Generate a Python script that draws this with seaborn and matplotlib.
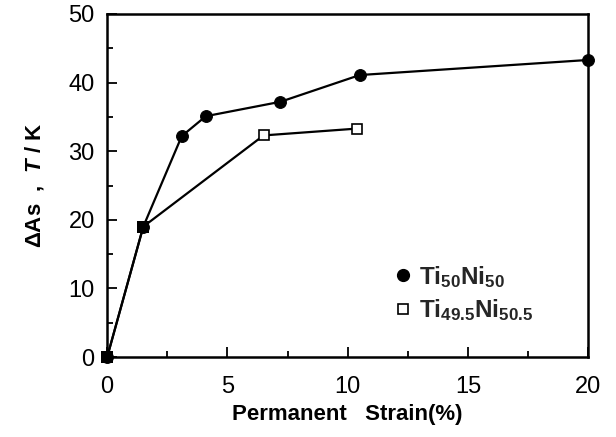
import matplotlib
matplotlib.use("Agg")
import matplotlib.pyplot as plt
import seaborn as sns
import pandas as pd
from matplotlib.lines import Line2D

# Data
strain_a = [0, 1.5, 3.1, 4.1, 7.2, 10.5, 20.0]
dAs_a = [0, 19.0, 32.2, 35.1, 37.2, 41.1, 43.3]
label_a = r"Ti$_{50}$Ni$_{50}$"

strain_b = [0, 1.5, 6.5, 10.4]
dAs_b = [0, 19.0, 32.3, 33.3]
label_b = r"Ti$_{49.5}$Ni$_{50.5}$"

# shared points (both series) drawn as filled squares
shared_x = [0, 1.5]
shared_y = [0, 19.0]

sns.set_style("ticks")
plt.rcParams["font.family"] = ["Liberation Sans", "DejaVu Sans"]
plt.rcParams["mathtext.fontset"] = "custom"
plt.rcParams["mathtext.rm"] = "Liberation Sans:bold"
plt.rcParams["mathtext.it"] = "Liberation Sans:bold:italic"
plt.rcParams["mathtext.bf"] = "Liberation Sans:bold"

fig = plt.figure(figsize=(6.16, 4.37), dpi=100)
ax = fig.add_axes([0.174, 0.183, 0.781, 0.785])

dfa = pd.DataFrame({"x": strain_a, "y": dAs_a})
dfb = pd.DataFrame({"x": strain_b, "y": dAs_b})
sns.lineplot(data=dfa, x="x", y="y", ax=ax, color="black", lw=1.6,
             marker="o", markersize=8.5, markerfacecolor="black",
             markeredgecolor="black", clip_on=False, zorder=3)
sns.lineplot(data=dfb, x="x", y="y", ax=ax, color="black", lw=1.6,
             marker="s", markersize=7, markerfacecolor="white",
             markeredgecolor="black", markeredgewidth=1.2, clip_on=False, zorder=3)
sns.scatterplot(x=shared_x, y=shared_y, ax=ax, marker="s", s=78, color="black",
                edgecolor="black", linewidth=0, clip_on=False, zorder=4)

ax.set_xlim(0, 20)
ax.set_ylim(0, 50)
ax.set_xticks([0, 5, 10, 15, 20])
ax.set_xticks([2.5, 7.5, 12.5, 17.5], minor=True)
ax.set_yticks([0, 10, 20, 30, 40, 50])
ax.set_yticks([5, 15, 25, 35, 45], minor=True)
ax.tick_params(which="both", direction="in", width=1.3, top=False, right=False,
               color="black", labelcolor="black")
ax.tick_params(which="major", length=7, labelsize=17)
ax.tick_params(axis="x", which="major", pad=14)
ax.tick_params(axis="y", which="major", pad=9)
ax.tick_params(which="minor", length=4)
for s in ax.spines.values():
    s.set_linewidth(1.8)
    s.set_color("black")

ax.set_xlabel("Permanent   Strain(%)", fontsize=16, fontweight="bold",
              labelpad=4, color="black")
ax.set_ylabel(r"ΔAs  ,  $\mathit{T}$ / K", fontsize=16, fontweight="bold",
              labelpad=16, color="black")

handles = [
    Line2D([], [], linestyle="none", marker="o", markersize=8.5, color="black"),
    Line2D([], [], linestyle="none", marker="s", markersize=6.5,
           markerfacecolor="white", markeredgecolor="black", markeredgewidth=1.2),
]
leg = ax.legend(handles, [label_a, label_b], loc="upper left",
                bbox_to_anchor=(0.55, 0.335), frameon=False,
                prop={"weight": "bold", "size": 17.5}, handlelength=0.8,
                handletextpad=0.25, labelspacing=0.3)

fig.savefig("out.png", dpi=100)
